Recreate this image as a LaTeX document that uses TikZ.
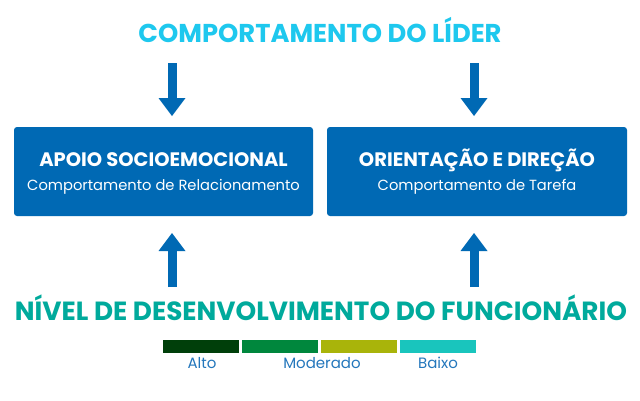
\documentclass[tikz,border=0pt]{standalone}
\usepackage{fontspec}
\setmainfont{Poppins}
\usetikzlibrary{arrows.meta}
\definecolor{cyanT}{HTML}{1EC8EE}
\definecolor{boxblue}{HTML}{0069B4}
\definecolor{tealT}{HTML}{00AA9C}
\definecolor{lblblue}{HTML}{2477BC}
\definecolor{gA}{HTML}{003F0A}
\definecolor{gB}{HTML}{00873D}
\definecolor{gC}{HTML}{A9B40A}
\definecolor{gD}{HTML}{19C5BD}
\begin{document}
\begin{tikzpicture}[x=1pt,y=-1pt,
  bluebox/.style={rectangle,fill=boxblue,rounded corners=3pt,minimum height=89pt,inner sep=0pt},
  boxtitle/.style={text=white,font=\fontsize{19.5}{22}\selectfont\bfseries,inner sep=0pt},
  boxsub/.style={text=white,font=\fontsize{14.7}{17}\selectfont,inner sep=0pt},
  bigarrow/.style={draw=boxblue,line width=9pt,-{Triangle[width=27pt,length=18pt,line width=0pt]}},
  legbar/.style={rectangle,minimum width=76pt,minimum height=13pt,inner sep=0pt},
  leglbl/.style={text=lblblue,font=\fontsize{15}{18}\selectfont,inner sep=0pt}]
\useasboundingbox (0,0) rectangle (640,400);
\fill[white] (0,0) rectangle (640,400);
\node[text=cyanT,font=\fontsize{25.8}{30}\selectfont\bfseries,inner sep=0pt] (title) at (320,30) {COMPORTAMENTO DO LÍDER};
\node[bluebox,minimum width=299pt] (left) at (163.5,171.5) {};
\node[bluebox,minimum width=300pt] (right) at (477,171.5) {};
\node[boxtitle] (lt) at (163.5,160) {APOIO SOCIOEMOCIONAL};
\node[boxsub] (ls) at (163.5,187) {Comportamento de Relacionamento};
\node[boxtitle] (rt) at (477,160) {ORIENTAÇÃO E DIREÇÃO};
\node[boxsub] (rs) at (477,187) {Comportamento de Tarefa};
\coordinate (d1a) at (172,63); \coordinate (d1b) at (172,116);
\coordinate (d2a) at (474,63); \coordinate (d2b) at (474,116);
\coordinate (u1a) at (172,287); \coordinate (u1b) at (172,233);
\coordinate (u2a) at (474,287); \coordinate (u2b) at (474,233);
\draw[bigarrow] (d1a) -- (d1b);
\draw[bigarrow] (d2a) -- (d2b);
\draw[bigarrow] (u1a) -- (u1b);
\draw[bigarrow] (u2a) -- (u2b);
\node[text=tealT,font=\fontsize{26.3}{30}\selectfont\bfseries,inner sep=0pt] (bottom) at (321,308) {NÍVEL DE DESENVOLVIMENTO DO FUNCIONÁRIO};
\node[legbar,fill=gA] (b1) at (201,346.5) {};
\node[legbar,fill=gB] (b2) at (280,346.5) {};
\node[legbar,fill=gC] (b3) at (359,346.5) {};
\node[legbar,fill=gD] (b4) at (438,346.5) {};
\node[leglbl] (l1) at (202,363) {Alto};
\node[leglbl] (l2) at (322,363) {Moderado};
\node[leglbl] (l3) at (438,363) {Baixo};
\end{tikzpicture}
\end{document}
